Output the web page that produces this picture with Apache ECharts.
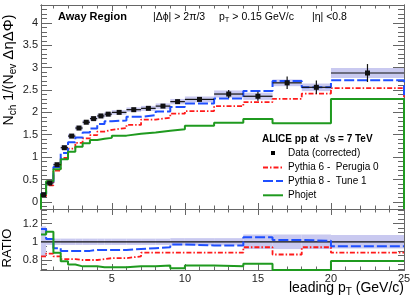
<!DOCTYPE html>
<html><head><meta charset="utf-8">
<script src="https://cdn.jsdelivr.net/npm/echarts@6/dist/echarts.min.js"></script>
<style>html,body{margin:0;padding:0;background:#fff}#c{width:414px;height:300px}</style>
</head><body><div id="c"></div>
<script>
// ---- data ----
const binEdges = [0.15,0.5,1,1.5,2,2.5,3,3.5,4,4.5,5,6,7,8,9,10,12,14,16,18,20,25];
const dataVals = [0.16,0.42,0.83,1.21,1.47,1.65,1.78,1.86,1.92,1.96,2.00,2.06,2.09,2.14,2.24,2.29,2.41,2.36,2.66,2.56,2.88];
const dataStat = [0.005,0.005,0.01,0.01,0.01,0.01,0.01,0.01,0.015,0.015,0.015,0.02,0.025,0.03,0.04,0.04,0.09,0.10,0.14,0.15,0.20];
const dataSys  = [0.03,0.035,0.045,0.05,0.05,0.05,0.05,0.05,0.05,0.05,0.05,0.05,0.055,0.06,0.06,0.065,0.08,0.08,0.075,0.085,0.11];
const pythia6  = [0.13,0.37,0.70,0.98,1.19,1.32,1.42,1.49,1.57,1.61,1.65,1.72,1.84,1.88,1.97,2.03,2.14,2.23,2.30,2.42,2.54];
const pythia8  = [0.18,0.43,0.78,1.09,1.33,1.44,1.55,1.64,1.74,1.80,1.82,1.90,1.94,2.02,2.12,2.20,2.31,2.48,2.70,2.56,2.72];
const phojet   = [0.17,0.46,0.73,0.95,1.12,1.23,1.31,1.38,1.41,1.43,1.48,1.52,1.55,1.59,1.62,1.70,1.77,1.85,1.755,1.755,2.30];
const ratioPythia6 = [0.84,0.87,0.84,0.81,0.81,0.80,0.80,0.80,0.81,0.82,0.82,0.84,0.88,0.88,0.88,0.88,0.88,0.94,0.86,0.94,0.88];
const ratioPythia8 = [1.14,1.03,0.93,0.90,0.90,0.90,0.90,0.91,0.91,0.91,0.91,0.92,0.93,0.94,0.97,0.96,0.96,1.05,1.02,1.01,0.95];
const ratioPhojet  = [1.08,1.11,0.88,0.785,0.75,0.73,0.73,0.73,0.72,0.72,0.72,0.73,0.73,0.74,0.71,0.74,0.73,0.76,0.69,0.69,0.79];
const ratioBand    = [0.17,0.035,0.035,0.035,0.035,0.035,0.035,0.035,0.035,0.035,0.035,0.035,0.035,0.035,0.04,0.04,0.04,0.08,0.08,0.08,0.075];
const xTickLabels = [5,10,15,20,25];
const yTickLabels = [0,0.5,1,1.5,2,2.5,3,3.5,4];
const ratioTickLabels = [0.8,1,1.2];

// ---- axis ranges ----
const X_MIN = 0.15, X_MAX = 25;
const Y_MIN = -0.16, Y_MAX = 4.4;
const R_MIN = 0.69, R_MAX = 1.36;

function range(a,b,s){const r=[];for(let v=a;v<=b+1e-9;v+=s)r.push(+v.toFixed(4));return r;}
const xMinor = range(1,24,1);
const yMinor = range(-0.1,4.4,0.1);
const rMinor = range(0.7,1.35,0.05);

const FONT = '"Liberation Sans", Arial, Helvetica, sans-serif';
const AX = '#666';

function steps(vals, drop){
  const p=[];
  if(drop!==undefined) p.push([binEdges[0],drop]);
  vals.forEach((v,i)=>{p.push([binEdges[i],v]);p.push([binEdges[i+1],v]);});
  if(drop!==undefined) p.push([binEdges[binEdges.length-1],drop]);
  return p;
}

function xAx(grid,pos,ticks,len,labels){
  return {type:'value',gridIndex:grid,position:pos,min:X_MIN,max:X_MAX,
    axisLine:{show:true,onZero:false,lineStyle:{color:AX,width:1}},
    axisTick:{show:true,inside:true,length:len,customValues:ticks,lineStyle:{color:AX}},
    axisLabel:labels?{show:true,customValues:ticks,fontSize:11,color:'#222',fontFamily:FONT,margin:3}:{show:false},
    splitLine:{show:false}};
}
function yAx(grid,pos,mn,mx,ticks,len,labels){
  return {type:'value',gridIndex:grid,position:pos,min:mn,max:mx,
    axisLine:{show:true,onZero:false,lineStyle:{color:AX,width:1}},
    axisTick:{show:true,inside:true,length:len,customValues:ticks,lineStyle:{color:AX}},
    axisLabel:labels?{show:true,customValues:ticks,fontSize:11,color:'#222',fontFamily:FONT,margin:3}:{show:false},
    splitLine:{show:false}};
}

const chart = echarts.init(document.getElementById('c'),null,{renderer:'canvas'});

const sysItems = dataVals.map((v,i)=>[binEdges[i],binEdges[i+1],v,dataStat[i],dataSys[i]]);
const bandItems = ratioBand.map((b,i)=>[binEdges[i],binEdges[i+1],b]);

const titleRich = {
  a:{fontSize:14,fontFamily:FONT,lineHeight:18,fill:'#000'},
  g:{fontSize:15,fontFamily:FONT,lineHeight:18,fill:'#000'},
  s:{fontSize:10,fontFamily:FONT,lineHeight:10,verticalAlign:'bottom',fill:'#000'}
};

const option = {
  animation:false,
  backgroundColor:'#fff',
  grid:[{left:41,right:10,top:5,height:204},{left:41,right:10,top:209,height:61}],
  xAxis:[
    xAx(0,'bottom',xTickLabels,6,false), xAx(0,'bottom',xMinor,3.5,false),
    xAx(0,'top',xTickLabels,6,false), xAx(0,'top',xMinor,3.5,false),
    xAx(1,'bottom',xTickLabels,6,true), xAx(1,'bottom',xMinor,3.5,false),
    xAx(1,'top',xTickLabels,6,false), xAx(1,'top',xMinor,3.5,false)
  ],
  yAxis:[
    yAx(0,'left',Y_MIN,Y_MAX,yTickLabels,11,true), yAx(0,'left',Y_MIN,Y_MAX,yMinor,6,false),
    yAx(0,'right',Y_MIN,Y_MAX,yTickLabels,11,false), yAx(0,'right',Y_MIN,Y_MAX,yMinor,6,false),
    yAx(1,'left',R_MIN,R_MAX,ratioTickLabels,11,true), yAx(1,'left',R_MIN,R_MAX,rMinor,6,false),
    yAx(1,'right',R_MIN,R_MAX,ratioTickLabels,11,false), yAx(1,'right',R_MIN,R_MAX,rMinor,6,false)
  ],
  series:[
    {type:'custom',name:'sys',xAxisIndex:0,yAxisIndex:0,z:1,clip:true,
      data:sysItems,encode:{x:[0,1],y:2},
      renderItem:function(params,api){
        const lo=api.value(0),hi=api.value(1),v=api.value(2),s=api.value(4);
        const a=api.coord([lo,v+s]),b=api.coord([hi,v-s]);
        return {type:'rect',shape:{x:a[0],y:a[1],width:b[0]-a[0],height:b[1]-a[1]},style:{fill:'#c9c9f0'}};
      }},
    {type:'line',name:'Pythia 6',xAxisIndex:0,yAxisIndex:0,z:3,symbol:'none',data:steps(pythia6,Y_MIN),
      lineStyle:{color:'#ff1a1a',width:1.8,type:[5,2,1.5,2]}},
    {type:'line',name:'Pythia 8',xAxisIndex:0,yAxisIndex:0,z:3,symbol:'none',data:steps(pythia8,Y_MIN),
      lineStyle:{color:'#1f4fff',width:2,type:[10,3]}},
    {type:'line',name:'Phojet',xAxisIndex:0,yAxisIndex:0,z:3,symbol:'none',data:steps(phojet,Y_MIN),
      lineStyle:{color:'#1f9a1f',width:2}},
    {type:'custom',name:'data',xAxisIndex:0,yAxisIndex:0,z:5,clip:true,
      data:sysItems,encode:{x:[0,1],y:2},
      renderItem:function(params,api){
        const lo=api.value(0),hi=api.value(1),v=api.value(2),st=api.value(3);
        const m=(lo+hi)/2;
        const l=api.coord([lo,v]),r=api.coord([hi,v]),c=api.coord([m,v]);
        const t=api.coord([m,v+st]),bt=api.coord([m,v-st]);
        const ls={stroke:'#111',lineWidth:1.2};
        return {type:'group',children:[
          {type:'line',shape:{x1:l[0],y1:l[1],x2:r[0],y2:r[1]},style:ls},
          {type:'line',shape:{x1:t[0],y1:t[1],x2:bt[0],y2:bt[1]},style:ls},
          {type:'rect',shape:{x:c[0]-2.5,y:c[1]-2.5,width:5,height:5},style:{fill:'#111'}}
        ]};
      }},
    // ratio panel
    {type:'custom',name:'band',xAxisIndex:4,yAxisIndex:4,z:1,clip:true,
      data:bandItems,encode:{x:[0,1],y:2},
      renderItem:function(params,api){
        const lo=api.value(0),hi=api.value(1),b=api.value(2);
        const a=api.coord([lo,1+b]),c=api.coord([hi,1-b]);
        return {type:'rect',shape:{x:a[0],y:a[1],width:c[0]-a[0],height:c[1]-a[1]},style:{fill:'#c9c9f0'}};
      }},
    {type:'line',name:'one',xAxisIndex:4,yAxisIndex:4,z:2,symbol:'none',
      data:[[X_MIN,1],[X_MAX,1]],lineStyle:{color:'#111',width:1.2}},
    {type:'line',name:'r6',xAxisIndex:4,yAxisIndex:4,z:3,symbol:'none',data:steps(ratioPythia6),
      lineStyle:{color:'#ff1a1a',width:1.8,type:[5,2,1.5,2]}},
    {type:'line',name:'r8',xAxisIndex:4,yAxisIndex:4,z:3,symbol:'none',data:steps(ratioPythia8),
      lineStyle:{color:'#1f4fff',width:2,type:[10,3]}},
    {type:'line',name:'rp',xAxisIndex:4,yAxisIndex:4,z:3,symbol:'none',data:steps(ratioPhojet),
      lineStyle:{color:'#1f9a1f',width:2}}
  ],
  graphic:[
    {type:'text',x:58,y:17,style:{text:'Away Region',font:'bold 11px '+FONT,fill:'#000',verticalAlign:'middle'}},
    {type:'text',x:153,y:17,style:{text:'|Δϕ| > 2π/3',font:'10.5px '+FONT,fill:'#000',verticalAlign:'middle'}},
    {type:'text',x:219,y:17,style:{text:'{a|p}{s|T}{a| > 0.15 GeV/c}',verticalAlign:'middle',
      rich:{a:{fontSize:10.5,fontFamily:FONT,lineHeight:14,fill:'#000'},s:{fontSize:7.5,fontFamily:FONT,lineHeight:8,verticalAlign:'bottom',fill:'#000'}}}},
    {type:'text',x:312,y:17,style:{text:'|η| <0.8',font:'10.5px '+FONT,fill:'#000',verticalAlign:'middle'}},
    {type:'text',x:262,y:139,style:{text:'ALICE pp at  √s = 7 TeV',font:'bold 10px '+FONT,fill:'#000',verticalAlign:'middle'}},
    {type:'rect',shape:{x:271,y:151,width:4,height:4},style:{fill:'#000'}},
    {type:'text',x:288,y:153,style:{text:'Data (corrected)',font:'10px '+FONT,fill:'#000',verticalAlign:'middle'}},
    {type:'line',shape:{x1:263,y1:167.5,x2:283,y2:167.5},style:{stroke:'#ff1a1a',lineWidth:1.8,lineDash:[5,2,1.5,2]}},
    {type:'text',x:288,y:167,style:{text:'Pythia 6 -  Perugia 0',font:'10px '+FONT,fill:'#000',verticalAlign:'middle'}},
    {type:'line',shape:{x1:263,y1:181,x2:283,y2:181},style:{stroke:'#1f4fff',lineWidth:2,lineDash:[10,3]}},
    {type:'text',x:288,y:181,style:{text:'Pythia 8 -  Tune 1',font:'10px '+FONT,fill:'#000',verticalAlign:'middle'}},
    {type:'line',shape:{x1:263,y1:195.3,x2:283,y2:195.3},style:{stroke:'#1f9a1f',lineWidth:2}},
    {type:'text',x:288,y:195,style:{text:'Phojet',font:'10px '+FONT,fill:'#000',verticalAlign:'middle'}},
    {type:'text',x:404,y:288,style:{text:'{a|leading p}{s|T}{a| (GeV/c)}',align:'right',verticalAlign:'middle',
      rich:{a:{fontSize:14,fontFamily:FONT,lineHeight:18,fill:'#000'},s:{fontSize:10,fontFamily:FONT,lineHeight:10,verticalAlign:'bottom',fill:'#000'}}}},
    {type:'text',x:7.5,y:248,rotation:Math.PI/2,style:{text:'RATIO',font:'13px '+FONT,fill:'#000',align:'center',verticalAlign:'middle'}},
    {type:'text',x:9,y:70,rotation:Math.PI/2,style:{text:'{a|N}{s|ch}{a| 1/(N}{s|ev}{g| ΔηΔΦ}{a|)}',align:'center',verticalAlign:'middle',
      rich:titleRich}}
  ]
};
chart.setOption(option);
</script></body></html>
